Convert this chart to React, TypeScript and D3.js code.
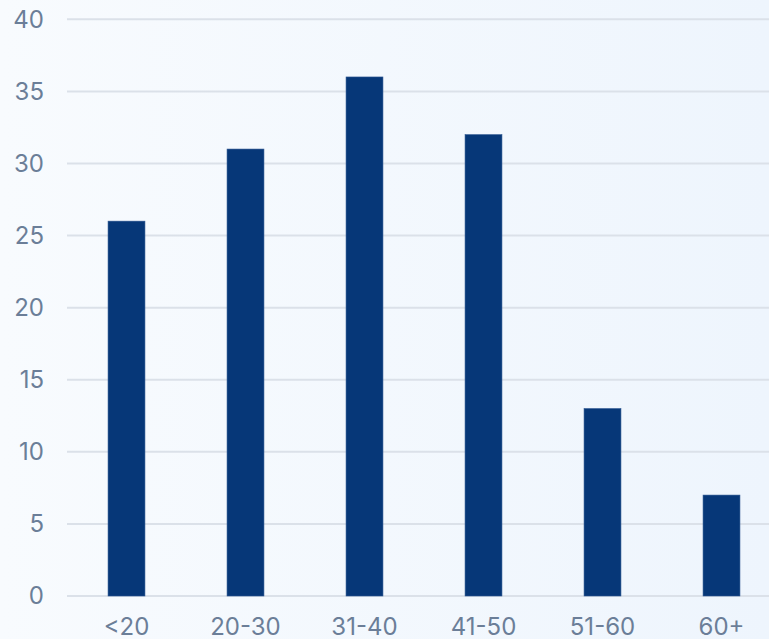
import { useEffect, useRef } from 'react';
import * as d3 from 'd3';

const ageGroups = ['<20', '20-30', '31-40', '41-50', '51-60', '60+'];
const counts = [26, 31, 36, 32, 13, 7];
const yTicks = [0, 5, 10, 15, 20, 25, 30, 35, 40];

const App = () => {
    const svgRef = useRef<SVGSVGElement | null>(null);

    useEffect(() => {
        if (!svgRef.current) return;
        const svg = d3.select(svgRef.current);
        svg.selectAll('*').remove();

        const width = 769;
        const height = 639;
        const margin = { top: 19.3, bottom: 43, left: 67 };

        // background gradient
        const defs = svg.append('defs');
        const grad = defs.append('linearGradient')
            .attr('id', 'bg')
            .attr('x1', '0%').attr('y1', '0%')
            .attr('x2', '100%').attr('y2', '0%');
        grad.append('stop').attr('offset', '0%').attr('stop-color', '#f8fbfe');
        grad.append('stop').attr('offset', '100%').attr('stop-color', '#eef5fd');
        svg.append('rect')
            .attr('width', width)
            .attr('height', height)
            .attr('fill', 'url(#bg)');

        const x = d3.scaleBand()
            .domain(ageGroups)
            .range([margin.left, margin.left + 714])
            .paddingInner(0.69)
            .paddingOuter(0.345);

        const y = d3.scaleLinear()
            .domain([0, 40])
            .range([height - margin.bottom, margin.top]);

        // gridlines
        svg.append('g')
            .selectAll('line')
            .data(yTicks)
            .join('line')
            .attr('x1', margin.left)
            .attr('x2', width)
            .attr('y1', d => y(d))
            .attr('y2', d => y(d))
            .attr('stroke', '#dbe1e9')
            .attr('stroke-width', 2);

        // y labels
        svg.append('g')
            .attr('font-family', 'Inter, sans-serif')
            .attr('font-size', 24)
            .attr('fill', '#6b7e98')
            .attr('text-anchor', 'end')
            .selectAll('text')
            .data(yTicks)
            .join('text')
            .attr('x', 44)
            .attr('y', d => y(d))
            .attr('dy', '0.35em')
            .text(d => d);

        // bars
        svg.append('g')
            .selectAll('rect')
            .data(counts)
            .join('rect')
            .attr('x', (d, i) => x(ageGroups[i]) as number)
            .attr('y', d => y(d))
            .attr('width', x.bandwidth())
            .attr('height', d => y(0) - y(d))
            .attr('fill', '#063778')
            .attr('stroke', '#2c5590')
            .attr('stroke-width', 0.6);

        // x labels
        svg.append('g')
            .attr('font-family', 'Inter, sans-serif')
            .attr('font-size', 24)
            .attr('fill', '#6b7e98')
            .attr('text-anchor', 'middle')
            .selectAll('text')
            .data(ageGroups)
            .join('text')
            .attr('x', d => (x(d) as number) + x.bandwidth() / 2)
            .attr('y', 635)
            .text(d => d);
    }, []);

    return (
        <svg
            ref={svgRef}
            width={769}
            height={639}
            style={{ position: 'fixed', left: 0, top: 0, display: 'block' }}
        />
    );
};

export default App;
